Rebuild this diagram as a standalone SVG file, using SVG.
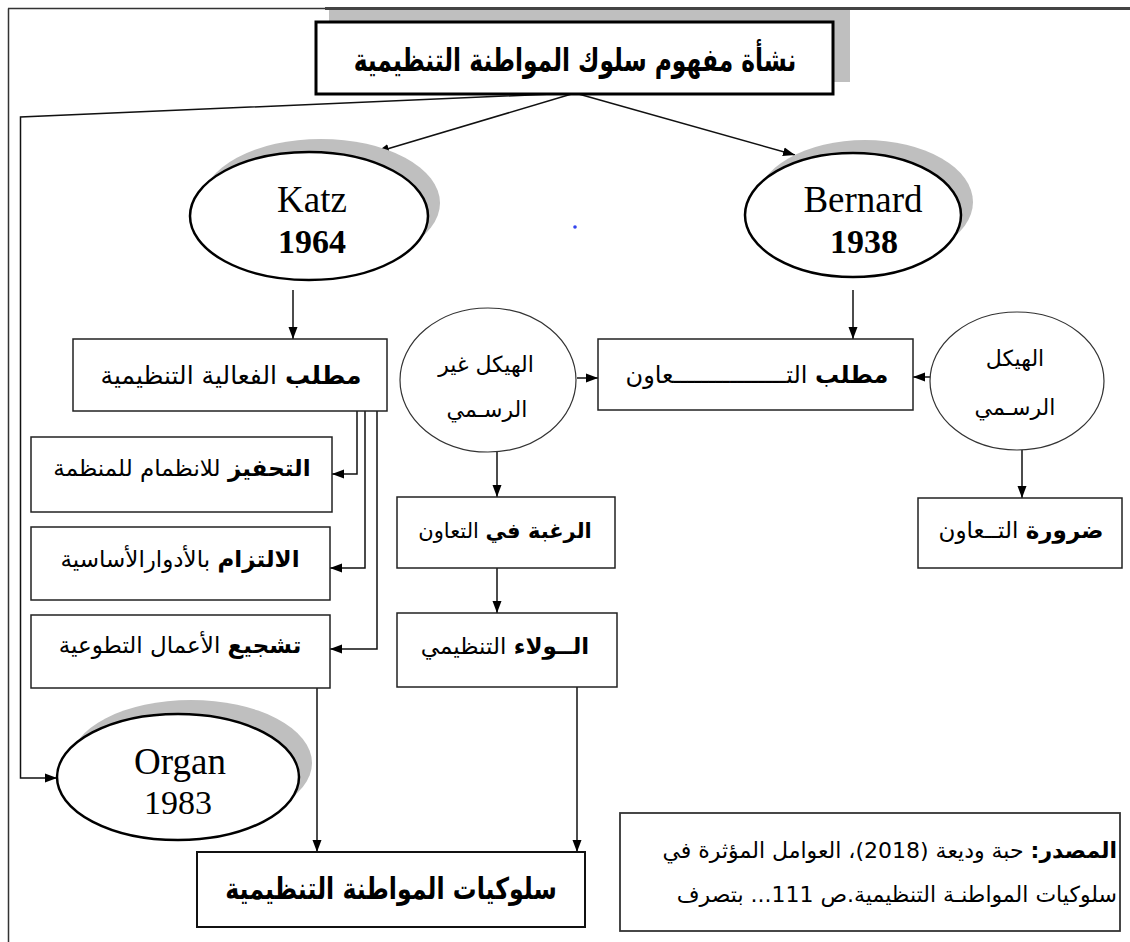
<svg xmlns="http://www.w3.org/2000/svg" width="1130" height="942" viewBox="0 0 1130 942">
  <style>
    .ar { font-family: 'DejaVu Sans', 'Noto Sans', sans-serif; fill: #000; }
    .lat { font-family: 'Liberation Serif', 'DejaVu Serif', serif; fill: #000; }
    .box { fill: #fff; stroke: #222; stroke-width: 1.5; }
    .thin { fill: #fff; stroke: #333; stroke-width: 1.2; }
    .oval { fill: #fff; stroke: #000; stroke-width: 2.5; }
    .shadow { fill: #bfbfbf; }
    .conn { fill: none; stroke: #111; stroke-width: 1.5; }
  </style>
  <defs>
    <marker id="ah" viewBox="0 0 12 10" refX="12" refY="5" markerWidth="12" markerHeight="10" markerUnits="userSpaceOnUse" orient="auto">
      <path d="M0,0.5 L12,5 L0,9.5 z" fill="#000"/>
    </marker>
  </defs>

  <rect width="1130" height="942" fill="#fff"/>

  <!-- page frame -->
  <g id="frame">
    <line x1="8.5" y1="8.5" x2="8.5" y2="942" stroke="#333" stroke-width="1.5"/>
    <line x1="8" y1="8.5" x2="1130" y2="8.5" stroke="#333" stroke-width="1.5"/>
    <line x1="325" y1="8.5" x2="1130" y2="8.5" stroke="#444" stroke-width="3"/>
  </g>

  <!-- connectors -->
  <g id="connectors">
    <line class="conn" x1="575" y1="93" x2="377" y2="152" marker-end="url(#ah)"/>
    <line class="conn" x1="575" y1="93" x2="795" y2="155" marker-end="url(#ah)"/>
    <polyline class="conn" points="575,93 20.5,117 20.5,778 57,778" marker-end="url(#ah)"/>
    <line class="conn" x1="293" y1="290" x2="293" y2="339" marker-end="url(#ah)"/>
    <line class="conn" x1="853" y1="290" x2="853" y2="339" marker-end="url(#ah)"/>
    <line class="conn" x1="577" y1="378" x2="598" y2="378" marker-end="url(#ah)"/>
    <line class="conn" x1="930" y1="377" x2="913" y2="377" marker-end="url(#ah)"/>
    <line class="conn" x1="497" y1="452" x2="497" y2="497" marker-end="url(#ah)"/>
    <line class="conn" x1="1022" y1="450" x2="1022" y2="498" marker-end="url(#ah)"/>
    <line class="conn" x1="497" y1="568" x2="497" y2="613" marker-end="url(#ah)"/>
    <polyline class="conn" points="357,411 357,474 332,474" marker-end="url(#ah)"/>
    <polyline class="conn" points="365,411 365,568 330,568" marker-end="url(#ah)"/>
    <polyline class="conn" points="377,411 377,649 330,649" marker-end="url(#ah)"/>
    <line class="conn" x1="317" y1="688" x2="317" y2="852" marker-end="url(#ah)"/>
    <line class="conn" x1="577" y1="687" x2="577" y2="852" marker-end="url(#ah)"/>
  </g>

  <!-- title -->
  <g id="title">
    <rect class="shadow" x="329" y="10" width="521" height="72"/>
    <rect x="316" y="22" width="517" height="72" fill="#fff" stroke="#000" stroke-width="3"/>
    <text class="ar" transform="translate(575,71) scale(0.73,1)" font-size="32" font-weight="bold" text-anchor="middle" direction="rtl">نشأة مفهوم سلوك المواطنة التنظيمية</text>
  </g>

  <g id="katz">
    <ellipse class="shadow" cx="321" cy="203" rx="119" ry="64"/>
    <ellipse class="oval" cx="309" cy="216" rx="119" ry="64"/>
    <text class="lat" x="312" y="212" font-size="37" text-anchor="middle">Katz</text>
    <text class="lat" x="312" y="253" font-size="34" font-weight="bold" text-anchor="middle">1964</text>
  </g>

  <g id="bernard">
    <ellipse class="shadow" cx="865" cy="202" rx="108" ry="62"/>
    <ellipse class="oval" cx="853" cy="215" rx="108" ry="62"/>
    <text class="lat" x="863" y="212" font-size="37" text-anchor="middle">Bernard</text>
    <text class="lat" x="864" y="253" font-size="34" font-weight="bold" text-anchor="middle">1938</text>
  </g>

  <circle cx="575" cy="227" r="1.8" fill="#3344ee"/>

  <g id="effectiveness">
    <rect class="box" x="73" y="339" width="314" height="72"/>
    <text class="ar" x="231" y="384" font-size="25" text-anchor="middle" direction="rtl"><tspan font-weight="bold">مطلب</tspan> الفعالية التنظيمية</text>
  </g>

  <g id="cooperation">
    <rect class="box" x="598" y="339" width="315" height="71"/>
    <text class="ar" x="757" y="383" font-size="24" text-anchor="middle" direction="rtl"><tspan font-weight="bold">مطلب</tspan> التــــــــــــــــعاون</text>
  </g>

  <g id="informal">
    <ellipse class="thin" cx="488" cy="380" rx="88" ry="72"/>
    <text class="ar" x="486" y="372" font-size="22" text-anchor="middle" direction="rtl">الهيكل غير</text>
    <text class="ar" x="487" y="417" font-size="22" text-anchor="middle" direction="rtl">الرسـمي</text>
  </g>

  <g id="formal">
    <ellipse class="thin" cx="1017" cy="381" rx="87" ry="69"/>
    <text class="ar" x="1015" y="366" font-size="22" text-anchor="middle" direction="rtl">الهيكل</text>
    <text class="ar" x="1015" y="415" font-size="22" text-anchor="middle" direction="rtl">الرسـمي</text>
  </g>

  <g id="motivation">
    <rect class="box" x="31" y="437" width="301" height="75"/>
    <text class="ar" x="182" y="476" font-size="23" text-anchor="middle" direction="rtl"><tspan font-weight="bold">التحفيز</tspan> للانظمام للمنظمة</text>
  </g>

  <g id="commitment">
    <rect class="box" x="31" y="527" width="299" height="73"/>
    <text class="ar" x="180" y="567" font-size="23" text-anchor="middle" direction="rtl"><tspan font-weight="bold">الالتزام</tspan> بالأدوارالأساسية</text>
  </g>

  <g id="volunteering">
    <rect class="box" x="31" y="615" width="299" height="73"/>
    <text class="ar" x="180" y="653" font-size="23" text-anchor="middle" direction="rtl"><tspan font-weight="bold">تشجيع</tspan> الأعمال التطوعية</text>
  </g>

  <g id="willingness">
    <rect class="box" x="397" y="497" width="218" height="71"/>
    <text class="ar" x="505" y="538" font-size="21" text-anchor="middle" direction="rtl"><tspan font-weight="bold">الرغبة في</tspan> التعاون</text>
  </g>

  <g id="loyalty">
    <rect class="box" x="397" y="613" width="220" height="74"/>
    <text class="ar" x="505" y="654" font-size="23" text-anchor="middle" direction="rtl"><tspan font-weight="bold">الــولاء</tspan> التنظيمي</text>
  </g>

  <g id="necessity">
    <rect class="box" x="918" y="498" width="204" height="70"/>
    <text class="ar" x="1021" y="538" font-size="23" text-anchor="middle" direction="rtl"><tspan font-weight="bold">ضرورة</tspan> التــعاون</text>
  </g>

  <g id="organ">
    <ellipse class="shadow" cx="191" cy="763" rx="121" ry="63"/>
    <ellipse class="oval" cx="178" cy="777" rx="121" ry="63"/>
    <text class="lat" x="180" y="774" font-size="37" text-anchor="middle">Organ</text>
    <text class="lat" x="178" y="814" font-size="34" text-anchor="middle">1983</text>
  </g>

  <g id="ocb">
    <rect x="197" y="852" width="388" height="75" fill="#fff" stroke="#111" stroke-width="2"/>
    <text class="ar" transform="translate(391,899) scale(0.79,1)" font-size="30" font-weight="bold" text-anchor="middle" direction="rtl">سلوكيات المواطنة التنظيمية</text>
  </g>

  <g id="source">
    <rect x="620" y="813" width="500" height="118" fill="#fff" stroke="#333" stroke-width="1.8"/>
    <text class="ar" x="1117" y="858" font-size="22" text-anchor="start" direction="rtl"><tspan font-weight="bold">المصدر:</tspan> حبة وديعة (2018)، العوامل المؤثرة في</text>
    <text class="ar" x="1117" y="902" font-size="22" text-anchor="start" direction="rtl">سلوكيات المواطنـة  التنظيمية.ص 111... بتصرف</text>
  </g>
</svg>
